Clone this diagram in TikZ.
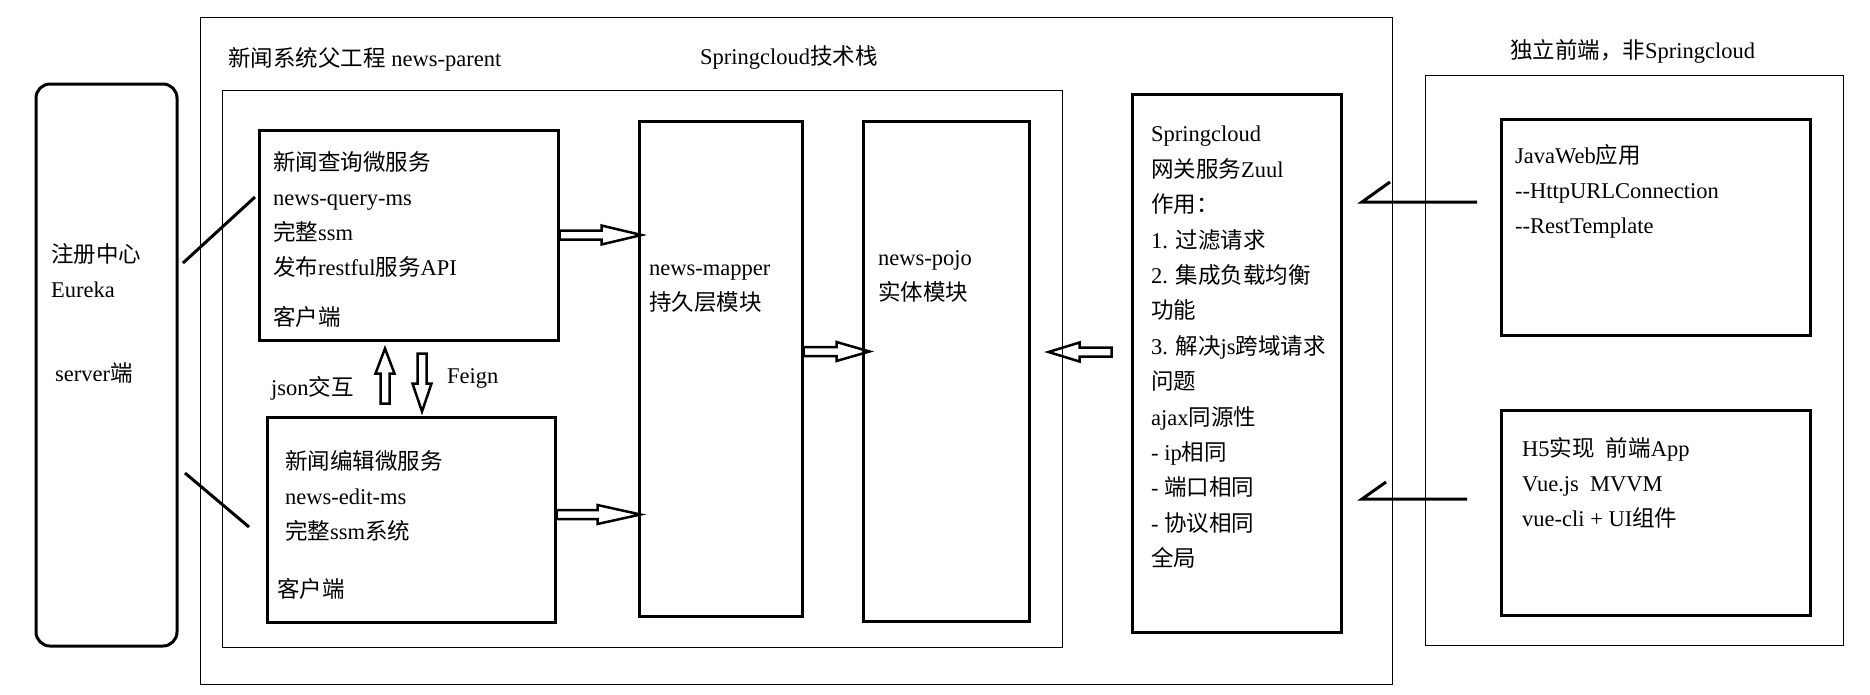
\documentclass[tikz,border=0pt]{standalone}
\usepackage{fontspec}
\setmainfont{Liberation Serif}
\newfontfamily\cjkfont{Noto Sans CJK SC}
\newcommand{\zh}[1]{{\cjkfont #1}}

\begin{document}
\begin{tikzpicture}
[x=1pt, y=-1pt, thin frame/.style={draw, line width=1pt, inner sep=0pt}, module/.style={draw, line width=3pt, inner sep=0pt}, label text/.style={anchor=north west, align=left, inner sep=0pt, font=\fontsize{22.5}{35}\selectfont, execute at begin node=\strut}, link line/.style={line width=3pt}, pics/hollow/.style n args={2}{code={\draw[line width=2.5pt] (0,-4.5) -- ({#1-#2},-4.5) -- ({#1-#2},-9.5) -- (#1,0) -- ({#1-#2},9.5) -- ({#1-#2},4.5) -- (0,4.5) -- cycle;}}]
    \useasboundingbox (0,0) rectangle (1870,694);
    % frames
    \node[thin frame, minimum width=1192pt, minimum height=667pt] (parent) at (796,350.5) {};
    \node[thin frame, minimum width=840pt, minimum height=557pt] (inner) at (642,368.5) {};
    \node[thin frame, minimum width=418pt, minimum height=570pt] (front) at (1634,360) {};
    % modules
    \node[module, rounded corners=14pt, minimum width=141pt, minimum height=562pt] (eureka) at (106.5,365) {};
    \node[module, minimum width=299pt, minimum height=210pt] (query) at (408.5,235) {};
    \node[module, minimum width=288pt, minimum height=205pt] (edit) at (411,519.5) {};
    \node[module, minimum width=163pt, minimum height=495pt] (mapper) at (720.5,368.5) {};
    \node[module, minimum width=166pt, minimum height=500pt] (pojo) at (946,371) {};
    \node[module, minimum width=209pt, minimum height=538pt] (zuul) at (1236.5,363) {};
    \node[module, minimum width=309pt, minimum height=216pt] (javaweb) at (1655.5,227) {};
    \node[module, minimum width=309pt, minimum height=205pt] (hfive) at (1655.5,512.5) {};
    % texts
    \node[label text] (parent title) at (228,42) {\zh{新闻系统父工程} news-parent};
    \node[label text] (stack title) at (700,40) {Springcloud\zh{技术栈}};
    \node[label text] (front title) at (1510,34) {\zh{独立前端，非}Springcloud};
    \node[label text] (eureka text) at (51,243) {\zh{注册中心}\\Eureka\\[49pt]\hspace{4pt}server\zh{端}};
    \node[label text] (query text) at (273,151) {\zh{新闻查询微服务}\\news-query-ms\\\zh{完整}ssm\\\zh{发布}restful\zh{服务}API\\[15pt]\zh{客户端}};
    \node[label text] (edit text) at (285,450) {\zh{新闻编辑微服务}\\news-edit-ms\\\zh{完整}ssm\zh{系统}};
    \node[label text] (edit client) at (277,573) {\zh{客户端}};
    \node[label text] (mapper text) at (649,265) {news-mapper\\\zh{持久层模块}};
    \node[label text] (pojo text) at (878,250) {news-pojo\\\zh{实体模块}};
    \node[label text, font=\fontsize{22.5}{35.4}\selectfont] (zuul text) at (1151,126) {Springcloud\\\zh{网关服务}Zuul\\\zh{作用：}\\1. \zh{过滤请求}\\2. \zh{集成负载均衡}\\\zh{功能}\\3. \zh{解决}js\zh{跨域请求}\\\zh{问题}\\ajax\zh{同源性}\\- ip\zh{相同}\\- \zh{端口相同}\\- \zh{协议相同}\\\zh{全局}};
    \node[label text] (javaweb text) at (1515,144) {JavaWeb\zh{应用}\\-{}-HttpURLConnection\\-{}-RestTemplate};
    \node[label text] (hfive text) at (1522,437) {H5\zh{实现}\ \ \zh{前端}App\\Vue.js\ \ MVVM\\vue-cli + UI\zh{组件}};
    \node[label text] (json text) at (271,371) {json\zh{交互}};
    \node[label text] (feign text) at (447,359) {Feign};
    % registry links
    \coordinate (eq from) at (183,263);
    \coordinate (eq to) at (255,197);
    \coordinate (ee from) at (185,473);
    \coordinate (ee to) at (249,527);
    \draw[link line] (eq from) -- (eq to);
    \draw[link line] (ee from) -- (ee to);
    % front end links
    \coordinate (jz start) at (1477,202);
    \coordinate (jz corner) at (1362,202);
    \coordinate (jz tip) at (1390,182);
    \coordinate (hz start) at (1467,499);
    \coordinate (hz corner) at (1362,499);
    \coordinate (hz tip) at (1386,482);
    \draw[link line] (jz start) -- (jz corner) -- (jz tip);
    \draw[link line] (hz start) -- (hz corner) -- (hz tip);
    % hollow arrows
    \pic at (query.east) {hollow={82}{40}};
    \pic at ([yshift=5pt]edit.east) {hollow={84}{43}};
    \pic at ([yshift=17pt]mapper.east) {hollow={66}{33}};
    \pic[rotate=180] at ([xshift=-19pt,yshift=11pt]zuul.west) {hollow={63}{31}};
    \pic[rotate=90] at ([xshift=-26pt,yshift=12pt]edit.north) {hollow={55}{25}};
    \pic[rotate=-90] at ([xshift=13.5pt,yshift=-12pt]query.south) {hollow={58}{28}};
\end{tikzpicture}
\end{document}
